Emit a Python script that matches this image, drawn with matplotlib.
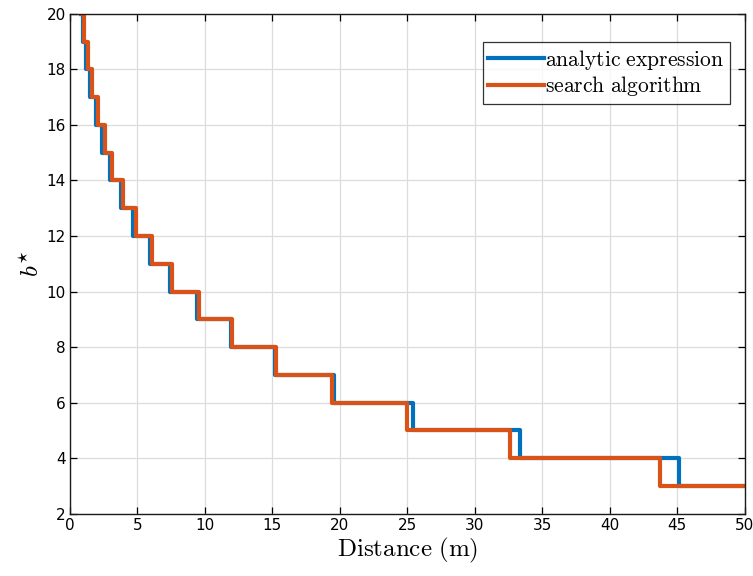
import matplotlib.pyplot as plt
import numpy as np

plt.rcParams['mathtext.fontset'] = 'cm'

# b* levels, from 20 down to 3
levels = list(range(20, 2, -1))
# distance (m) where each curve drops to the next level
analytic_drops = [0.96, 1.19, 1.50, 1.95, 2.37, 2.96, 3.75, 4.69, 5.93, 7.40,
                  9.40, 11.90, 15.20, 19.56, 25.38, 33.36, 45.10]
search_drops = [1.07, 1.30, 1.63, 2.07, 2.57, 3.13, 3.95, 4.89, 6.10, 7.53,
                9.56, 12.00, 15.26, 19.38, 24.94, 32.64, 43.70]
x_start = 0.85
x_end = 50

xticks = np.arange(0, 51, 5)
yticks = np.arange(2, 21, 2)


def step_xy(drops):
    x = [x_start] + drops + [x_end]
    y = levels + [levels[-1]]
    return x, y


fig = plt.figure(figsize=(7.53, 5.76), dpi=100)
ax = fig.add_axes([0.093, 0.108, 0.896, 0.868])

xa, ya = step_xy(analytic_drops)
xs, ys = step_xy(search_drops)
ax.step(xa, ya, where='post', color='#0072BD', lw=3.0, label='analytic expression')
ax.step(xs, ys, where='post', color='#D95319', lw=3.0, label='search algorithm')

ax.set_xlim(0, 50)
ax.set_ylim(2, 20)
ax.set_xticks(xticks)
ax.set_yticks(yticks)
ax.grid(True, color='#dcdcdc', lw=0.9)
ax.set_axisbelow(True)
ax.tick_params(direction='in', length=5, width=0.9, top=True, right=True,
               labelsize=11, pad=3, colors='#000000')
for s in ax.spines.values():
    s.set_linewidth(1.0)
    s.set_color('#1a1a1a')

ax.set_xlabel(r'$\mathrm{Distance\ (m)}$', fontsize=18, labelpad=2)
ax.set_ylabel(r'$b^{\star}$', fontsize=18, labelpad=2)

leg = ax.legend(loc='upper right', bbox_to_anchor=(0.978, 0.943),
                prop={'size': 15.5}, frameon=True,
                fancybox=False, handlelength=2.6, handletextpad=0.05,
                borderpad=0.25, labelspacing=0.12, borderaxespad=0)
leg.get_frame().set_edgecolor('black')
leg.get_frame().set_linewidth(0.9)
for t in leg.get_texts():
    t.set_text(r'$\mathrm{' + t.get_text().replace(' ', r'\ ') + '}$')

fig.savefig('out.png', dpi=100)
